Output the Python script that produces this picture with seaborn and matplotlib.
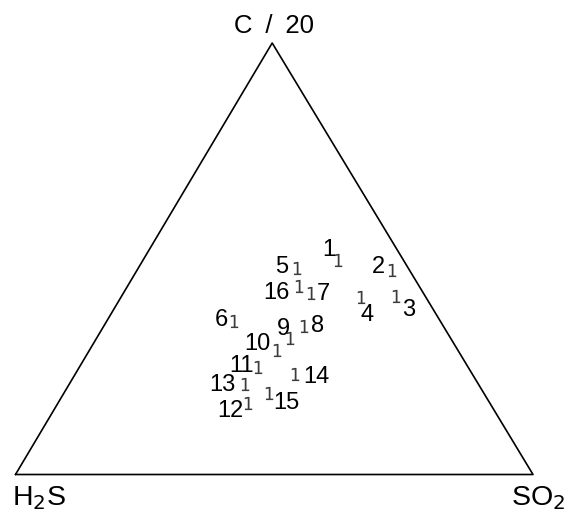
import matplotlib
matplotlib.use("Agg")
import matplotlib.pyplot as plt
import seaborn as sns
import pandas as pd

# Sample numbers and their ternary composition (percent of H2S, SO2, C/20)
samples = ["1", "2", "3", "4", "5", "6", "7", "8",
           "9", "10", "11", "12", "13", "14", "15", "16"]
h2s = [12.7, 3.3, 5.6, 12.6, 21.6, 39.9, 21.8, 26.9,
       31.0, 34.9, 40.5, 46.7, 45.1, 34.2, 41.5, 23.1]
so2 = [37.6, 49.3, 53.0, 46.3, 30.6, 24.5, 36.2, 38.8,
       37.4, 36.2, 34.5, 36.7, 33.9, 42.5, 39.7, 33.1]
c20 = [49.7, 47.4, 41.4, 41.1, 47.8, 35.6, 42.0, 34.3,
       31.6, 28.9, 25.0, 16.6, 21.0, 23.3, 18.8, 43.8]

# label placement relative to each point (pixels)
label_offsets = [(-9, 10), (-14, 3), (13, -14), (6, -18), (-15, 1), (-12, 1),
                 (13, -1), (13, 0), (-7, 9), (-20, 6), (-17, 1), (-18, -8),
                 (-22, -1), (21, -3), (17, -10), (-23, -7)]

APEX_X = 0.496  # horizontal position of the C/20 apex


def to_xy(a, b, c):
    tot = a + b + c
    b, c = b / tot, c / tot
    return b + APEX_X * c, c


df = pd.DataFrame({"sample": samples, "h2s": h2s, "so2": so2, "c20": c20})
df["x"], df["y"] = zip(*[to_xy(a, b, c) for a, b, c in zip(df.h2s, df.so2, df.c20)])

sns.set_theme(style="white")
plt.rcParams["font.family"] = ["Liberation Sans", "DejaVu Sans"]
plt.rcParams["mathtext.fontset"] = "dejavusans"

fig = plt.figure(figsize=(5.7, 5.13), dpi=100)
ax = fig.add_axes([0, 0, 1, 1])

# triangle outline
tri = pd.DataFrame({"x": [0, 1, APEX_X, 0], "y": [0, 0, 1, 0], "o": range(4)})
sns.lineplot(data=tri, x="x", y="y", sort=False, estimator=None,
             color="black", lw=1.2, ax=ax)

# sample points
sns.scatterplot(data=df, x="x", y="y", marker=r"$\mathtt{1}$", s=90,
                color="#3c3c3c", linewidth=0, ax=ax, legend=False)

for (_, r), (dx, dy) in zip(df.iterrows(), label_offsets):
    ax.annotate(r["sample"], (r["x"], r["y"]), xytext=(dx, dy),
                textcoords="offset pixels", ha="center", va="center",
                fontsize=17, color="black")

ax.text(APEX_X + 0.004, 1.023, "C\u2002/\u200220", ha="center", va="baseline",
        fontsize=18.5, color="black")
ax.text(0.046, -0.0707, r"H$_2$S", ha="center", va="baseline", fontsize=20.5,
        color="black")
ax.text(1.0106, -0.0707, r"SO$_2$", ha="center", va="baseline", fontsize=20.5,
        color="black")

ax.set_xlim(-15.5 / 517.5, (570 - 15.5) / 517.5)
ax.set_ylim(-38.5 / 431.5, 474.5 / 431.5)
ax.set_axis_off()

fig.savefig("out.png", dpi=100, facecolor="white")
